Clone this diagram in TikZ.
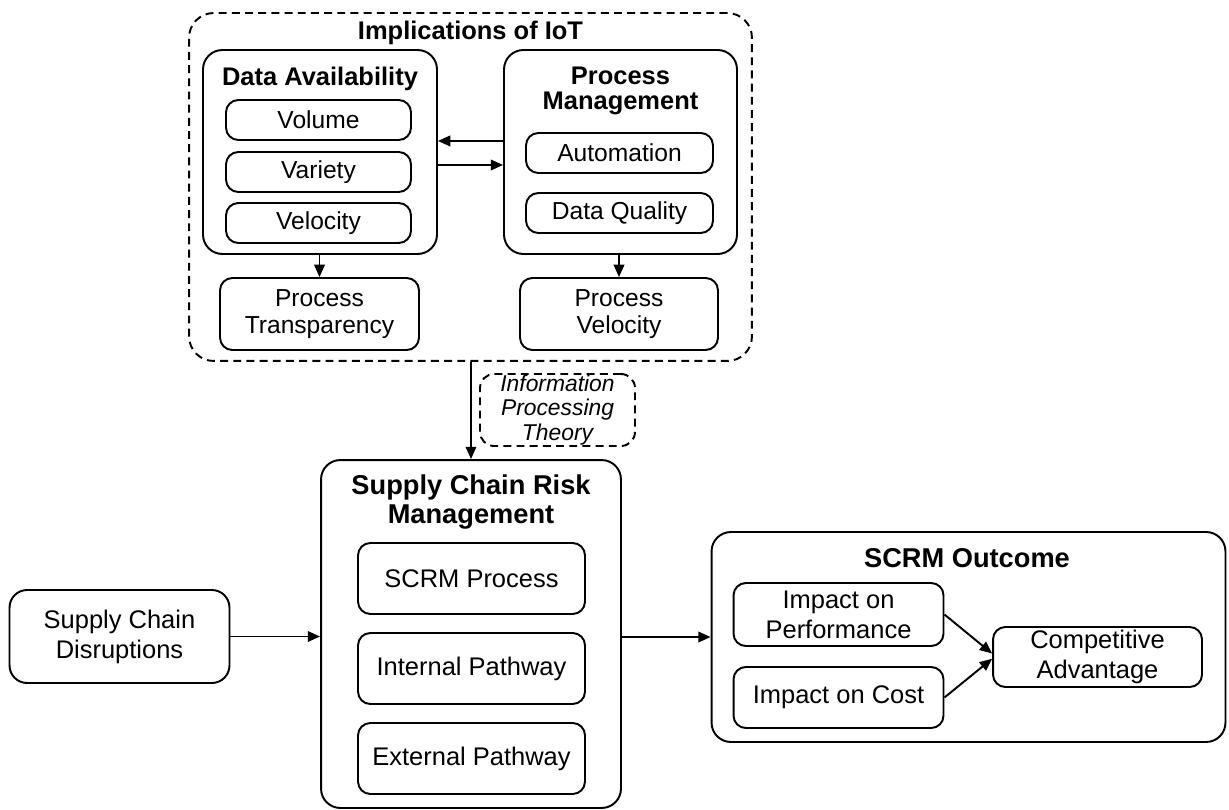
\documentclass[tikz,border=0pt]{standalone}
\usepackage{fontspec}
\setmainfont{Liberation Sans}
\usetikzlibrary{arrows.meta, calc}
\tikzset{
  group box/.style={
    draw,
    line width=1.1pt,
    rounded corners=11pt,
    inner sep=0pt
  },
  dashed box/.style={
    group box,
    dash pattern=on 4.5pt off 3pt
  },
  item box/.style={
    draw,
    line width=1.1pt,
    rounded corners=7pt,
    inner sep=0pt,
    align=center,
    font=\fontsize{14}{15}\selectfont
  },
  low item/.style={
    item box,
    font=\fontsize{14.5}{17}\selectfont
  },
  title text/.style={
    inner sep=0pt,
    align=center,
    font=\fontsize{14.5}{14.5}\selectfont\bfseries
  },
  flow/.style={
    -{Triangle[length=7pt, width=6pt]},
    line width=1.1pt
  }
}
\begin{document}
\begin{tikzpicture}[x=0.02cm, y=-0.02cm]
  \useasboundingbox (0,0) rectangle (1229,810);

  %% ---- Implications of IoT ----
  \node[dashed box, rounded corners=14pt, minimum width=11.26cm, minimum height=6.96cm] (iot) at (470.5,187) {};
  \node[title text] (iottitle) at (470.5,33) {Implications of IoT};

  % Data Availability
  \node[group box, minimum width=4.68cm, minimum height=4.08cm] (da) at (320,152) {};
  \node[title text] (datitle) at (320,79) {Data Availability};
  \node[item box, minimum width=3.7cm, minimum height=0.8cm] (vol) at (318.5,120) {Volume};
  \node[item box, minimum width=3.7cm, minimum height=0.8cm] (var) at (318.5,172) {Variety};
  \node[item box, minimum width=3.7cm, minimum height=0.8cm] (vel) at (318.5,223) {Velocity};

  % Process Management
  \node[group box, minimum width=4.66cm, minimum height=4.08cm] (pm) at (620.5,152) {};
  \node[title text, font=\fontsize{14.5}{14.2}\selectfont\bfseries] (pmtitle) at (620.5,91) {Process\\Management};
  \node[item box, minimum width=3.74cm, minimum height=0.8cm] (auto) at (619.5,153) {Automation};
  \node[item box, minimum width=3.74cm, minimum height=0.8cm] (dq) at (619.5,213) {Data Quality};

  % outcomes of both
  \node[item box, minimum width=3.98cm, minimum height=1.44cm] (pt) at (319.5,314) {Process\\Transparency};
  \node[item box, minimum width=3.96cm, minimum height=1.44cm] (pv) at (619,314) {Process\\Velocity};

  \draw[flow] (pm.west |- vol.south) -- (da.east |- vol.south);
  \draw[flow] ($(da.east |- var.center)+(0,-7)$) -- ($(pm.west |- var.center)+(0,-7)$);
  \draw[flow] (da.south -| pt.north) -- (pt.north);
  \draw[flow] (pm.south -| pv.north) -- (pv.north);

  %% ---- Theory ----
  \node[dashed box, rounded corners=8pt, minimum width=3.1cm, minimum height=1.44cm,
        align=center, font=\fontsize{13}{14}\selectfont\itshape] (ipt) at (557.5,410)
        {Information\\Processing\\Theory};

  %% ---- Supply Chain Risk Management ----
  \node[group box, minimum width=6.0cm, minimum height=6.96cm] (scrm) at (471,634) {};
  \node[title text, font=\fontsize{15.5}{17}\selectfont\bfseries] (scrmtitle) at (471,502) {Supply Chain Risk\\Management};
  \node[low item, minimum width=4.54cm, minimum height=1.42cm] (proc) at (471.5,578.5) {SCRM Process};
  \node[low item, minimum width=4.54cm, minimum height=1.42cm] (inpath) at (471.5,668.5) {Internal Pathway};
  \node[low item, minimum width=4.54cm, minimum height=1.42cm] (expath) at (471.5,758.5) {External Pathway};

  \draw[flow] (iot.south -| scrm.north) -- (scrm.north);

  %% ---- Disruptions ----
  \node[low item, rounded corners=10pt, minimum width=4.4cm, minimum height=1.86cm] (scd) at (119.5,636.5) {Supply Chain\\Disruptions};
  \draw[flow] (scd.east) -- (scd.east -| scrm.west);

  %% ---- SCRM Outcome ----
  \node[group box, minimum width=10.28cm, minimum height=4.2cm] (outc) at (968.5,637) {};
  \node[title text, font=\fontsize{15.5}{15.5}\selectfont\bfseries] (outtitle) at (967,558) {SCRM Outcome};
  \node[low item, minimum width=4.2cm, minimum height=1.26cm] (iop) at (838.5,614.5) {Impact on\\Performance};
  \node[low item, minimum width=4.2cm, minimum height=1.22cm] (ioc) at (838.5,697.5) {Impact on Cost};
  \node[low item, minimum width=4.18cm, minimum height=1.2cm] (ca) at (1097.5,657) {Competitive\\Advantage};

  \coordinate (sout) at ($(scrm.east)+(0,3)$);
  \draw[flow] (sout) -- (sout -| outc.west);
  \draw[flow] (iop.east) -- ([yshift=2pt]ca.west);
  \draw[flow] (ioc.east) -- ([yshift=-1pt]ca.west);

\end{tikzpicture}
\end{document}
